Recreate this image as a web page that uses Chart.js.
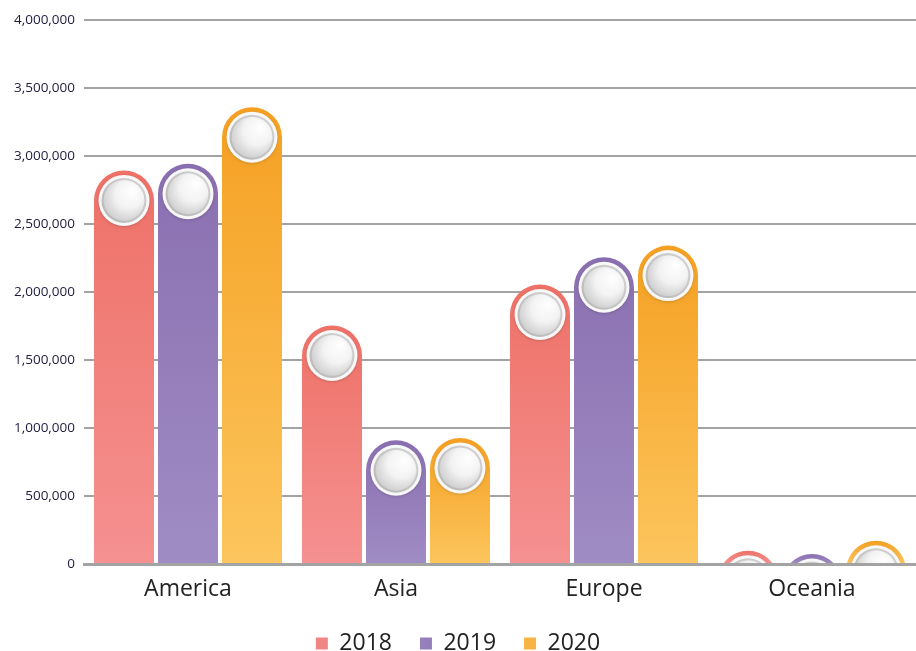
<!DOCTYPE html>
<html>
<head>
<meta charset="utf-8">
<script src="https://cdn.jsdelivr.net/npm/chart.js@4.4.1/dist/chart.umd.min.js"></script>
<style>
  html, body { margin: 0; background: #ffffff; }
  #wrap { width: 916px; height: 651px; }
</style>
</head>
<body>
<div id="wrap"><canvas id="chart"></canvas></div>
<script>
// data
const regions = ['America', 'Asia', 'Europe', 'Oceania'];
const years = ['2018', '2019', '2020'];
const values2018 = [2894000, 1754000, 2055000, 98000];
const values2019 = [2943000, 910000, 2255000, 73000];
const values2020 = [3359000, 927000, 2341000, 171000];
const yTicks = [0, 500000, 1000000, 1500000, 2000000, 2500000, 3000000, 3500000, 4000000];

// colours: top of the bar -> bottom of the bar
const topColors = ['#ee7167', '#8a6fb0', '#f5a022'];
const bottomColors = ['#f59191', '#a08cc5', '#fcc55d'];
const legendColors = ['#f08684', '#9680bb', '#f8b443'];

// draws each bar as a pill: rounded top with a white button in it
const pillBars = {
  id: 'pillBars',
  beforeDatasetDraw(chart, args) {
    const { ctx, chartArea } = chart;
    const i = args.index;
    ctx.save();
    ctx.beginPath();
    ctx.rect(chartArea.left, 0, chartArea.right - chartArea.left, chartArea.bottom);
    ctx.clip();
    args.meta.data.forEach(bar => {
      const r = bar.width / 2;
      const cx = bar.x, cy = bar.y + r, base = bar.base;
      // body
      const g = ctx.createLinearGradient(0, bar.y, 0, base);
      g.addColorStop(0, topColors[i]);
      g.addColorStop(1, bottomColors[i]);
      ctx.fillStyle = g;
      ctx.beginPath();
      ctx.moveTo(cx - r, base);
      ctx.lineTo(cx - r, cy);
      ctx.arc(cx, cy, r, Math.PI, 0);
      ctx.lineTo(cx + r, base);
      ctx.closePath();
      ctx.fill();
      // white outer ring
      ctx.save();
      ctx.shadowColor = 'rgba(0,0,0,0.15)';
      ctx.shadowBlur = 3;
      ctx.shadowOffsetY = 1;
      ctx.fillStyle = '#f8f8f8';
      ctx.beginPath();
      ctx.arc(cx, cy, r * 0.85, 0, Math.PI * 2);
      ctx.fill();
      ctx.restore();
      // grey ring
      const gr = ctx.createLinearGradient(cx + r, cy - r, cx - r, cy + r);
      gr.addColorStop(0, '#dadada');
      gr.addColorStop(1, '#b0b0b0');
      ctx.fillStyle = gr;
      ctx.beginPath();
      ctx.arc(cx, cy, r * 0.75, 0, Math.PI * 2);
      ctx.fill();
      // inner disc
      const gd = ctx.createRadialGradient(cx + r * 0.3, cy - r * 0.35, 0, cx + r * 0.1, cy - r * 0.1, r * 0.85);
      gd.addColorStop(0, '#ffffff');
      gd.addColorStop(0.55, '#f3f3f3');
      gd.addColorStop(1, '#cdcdcd');
      ctx.fillStyle = gd;
      ctx.beginPath();
      ctx.arc(cx, cy, r * 0.68, 0, Math.PI * 2);
      ctx.fill();
    });
    ctx.restore();
    return false;  // skip the default rectangle
  }
};

const seriesValues = [values2018, values2019, values2020];

new Chart(document.getElementById('chart'), {
  type: 'bar',
  data: {
    labels: regions,
    datasets: years.map((y, i) => ({
      label: y,
      data: seriesValues[i],
      backgroundColor: legendColors[i],
      borderWidth: 0,
      categoryPercentage: 0.923,
      barPercentage: 0.9375
    }))
  },
  plugins: [pillBars],
  options: {
    responsive: true,
    maintainAspectRatio: false,
    animation: false,
    layout: { padding: { top: 20, right: 0, bottom: 0, left: 0 } },
    plugins: {
      tooltip: { enabled: false },
      legend: {
        position: 'bottom',
        maxHeight: 47,
        labels: {
          boxWidth: 12,
          boxHeight: 12,
          padding: 28,
          color: '#222222',
          font: { family: 'Open Sans', size: 23 }
        }
      }
    },
    scales: {
      x: {
        grid: { display: false },
        border: { display: true, color: '#a3a3a3', width: 3, z: 1 },
        ticks: {
          color: '#222222',
          padding: 4,
          font: { family: 'Open Sans', size: 23 }
        },
        afterFit: s => { s.height = 40; }
      },
      y: {
        min: 0,
        max: 4000000,
        afterBuildTicks: s => { s.ticks = yTicks.map(v => ({ value: v })); },
        grid: { color: '#a3a3a3', lineWidth: 2, drawTicks: false },
        border: { display: false },
        ticks: {
          color: '#1e1c3c',
          padding: 9,
          font: { family: 'Open Sans', size: 13.5 },
          callback: v => v.toLocaleString('en-US')
        },
        afterFit: s => { s.width = 84; }
      }
    }
  }
});
</script>
</body>
</html>
